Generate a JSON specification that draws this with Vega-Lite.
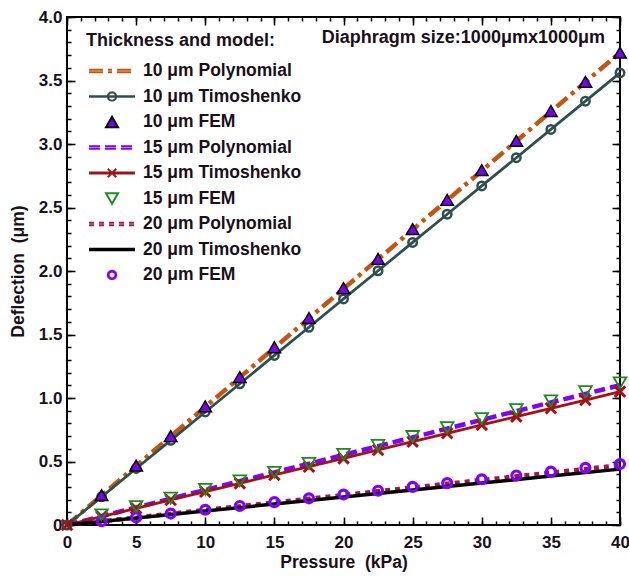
{
  "$schema": "https://vega.github.io/schema/vega-lite/v6.json",
  "width": 553,
  "height": 508,
  "autosize": {"type": "none"},
  "padding": {"left": 67, "top": 17, "right": 9, "bottom": 51},
  "background": "white",
  "data": {"values": [
    {"s":"10 μm Polynomial","p":0,"d":0},{"s":"10 μm Polynomial","p":5,"d":0.465},{"s":"10 μm Polynomial","p":10,"d":0.93},{"s":"10 μm Polynomial","p":15,"d":1.395},{"s":"10 μm Polynomial","p":20,"d":1.86},{"s":"10 μm Polynomial","p":25,"d":2.325},{"s":"10 μm Polynomial","p":30,"d":2.79},{"s":"10 μm Polynomial","p":35,"d":3.255},{"s":"10 μm Polynomial","p":40,"d":3.72},
    {"s":"15 μm Polynomial","p":0,"d":0},{"s":"15 μm Polynomial","p":5,"d":0.138},{"s":"15 μm Polynomial","p":10,"d":0.276},{"s":"15 μm Polynomial","p":15,"d":0.414},{"s":"15 μm Polynomial","p":20,"d":0.552},{"s":"15 μm Polynomial","p":25,"d":0.69},{"s":"15 μm Polynomial","p":30,"d":0.828},{"s":"15 μm Polynomial","p":35,"d":0.965},{"s":"15 μm Polynomial","p":40,"d":1.1},
    {"s":"20 μm Polynomial","p":0,"d":0},{"s":"20 μm Polynomial","p":5,"d":0.059},{"s":"20 μm Polynomial","p":10,"d":0.118},{"s":"20 μm Polynomial","p":15,"d":0.177},{"s":"20 μm Polynomial","p":20,"d":0.236},{"s":"20 μm Polynomial","p":25,"d":0.295},{"s":"20 μm Polynomial","p":30,"d":0.354},{"s":"20 μm Polynomial","p":35,"d":0.412},{"s":"20 μm Polynomial","p":40,"d":0.47},
    {"s":"10 μm Timoshenko","p":0,"d":0},{"s":"10 μm Timoshenko","p":2.5,"d":0.222},{"s":"10 μm Timoshenko","p":5,"d":0.445},{"s":"10 μm Timoshenko","p":7.5,"d":0.667},{"s":"10 μm Timoshenko","p":10,"d":0.89},{"s":"10 μm Timoshenko","p":12.5,"d":1.112},{"s":"10 μm Timoshenko","p":15,"d":1.335},{"s":"10 μm Timoshenko","p":17.5,"d":1.557},{"s":"10 μm Timoshenko","p":20,"d":1.78},{"s":"10 μm Timoshenko","p":22.5,"d":2.002},{"s":"10 μm Timoshenko","p":25,"d":2.225},{"s":"10 μm Timoshenko","p":27.5,"d":2.447},{"s":"10 μm Timoshenko","p":30,"d":2.67},{"s":"10 μm Timoshenko","p":32.5,"d":2.892},{"s":"10 μm Timoshenko","p":35,"d":3.115},{"s":"10 μm Timoshenko","p":37.5,"d":3.337},{"s":"10 μm Timoshenko","p":40,"d":3.56},
    {"s":"15 μm Timoshenko","p":0,"d":0},{"s":"15 μm Timoshenko","p":2.5,"d":0.066},{"s":"15 μm Timoshenko","p":5,"d":0.131},{"s":"15 μm Timoshenko","p":7.5,"d":0.197},{"s":"15 μm Timoshenko","p":10,"d":0.262},{"s":"15 μm Timoshenko","p":12.5,"d":0.328},{"s":"15 μm Timoshenko","p":15,"d":0.394},{"s":"15 μm Timoshenko","p":17.5,"d":0.459},{"s":"15 μm Timoshenko","p":20,"d":0.525},{"s":"15 μm Timoshenko","p":22.5,"d":0.591},{"s":"15 μm Timoshenko","p":25,"d":0.656},{"s":"15 μm Timoshenko","p":27.5,"d":0.722},{"s":"15 μm Timoshenko","p":30,"d":0.788},{"s":"15 μm Timoshenko","p":32.5,"d":0.853},{"s":"15 μm Timoshenko","p":35,"d":0.919},{"s":"15 μm Timoshenko","p":37.5,"d":0.984},{"s":"15 μm Timoshenko","p":40,"d":1.05},
    {"s":"20 μm Timoshenko","p":0,"d":0},{"s":"20 μm Timoshenko","p":5,"d":0.055},{"s":"20 μm Timoshenko","p":10,"d":0.11},{"s":"20 μm Timoshenko","p":15,"d":0.165},{"s":"20 μm Timoshenko","p":20,"d":0.22},{"s":"20 μm Timoshenko","p":25,"d":0.275},{"s":"20 μm Timoshenko","p":30,"d":0.33},{"s":"20 μm Timoshenko","p":35,"d":0.385},{"s":"20 μm Timoshenko","p":40,"d":0.44},
    {"s":"10 μm FEM","p":2.5,"d":0.236},{"s":"10 μm FEM","p":5,"d":0.468},{"s":"10 μm FEM","p":7.5,"d":0.7},{"s":"10 μm FEM","p":10,"d":0.935},{"s":"10 μm FEM","p":12.5,"d":1.165},{"s":"10 μm FEM","p":15,"d":1.4},{"s":"10 μm FEM","p":17.5,"d":1.63},{"s":"10 μm FEM","p":20,"d":1.865},{"s":"10 μm FEM","p":22.5,"d":2.095},{"s":"10 μm FEM","p":25,"d":2.33},{"s":"10 μm FEM","p":27.5,"d":2.56},{"s":"10 μm FEM","p":30,"d":2.795},{"s":"10 μm FEM","p":32.5,"d":3.025},{"s":"10 μm FEM","p":35,"d":3.26},{"s":"10 μm FEM","p":37.5,"d":3.49},{"s":"10 μm FEM","p":40,"d":3.72},
    {"s":"15 μm FEM","p":2.5,"d":0.08},{"s":"15 μm FEM","p":5,"d":0.145},{"s":"15 μm FEM","p":7.5,"d":0.212},{"s":"15 μm FEM","p":10,"d":0.28},{"s":"15 μm FEM","p":12.5,"d":0.348},{"s":"15 μm FEM","p":15,"d":0.415},{"s":"15 μm FEM","p":17.5,"d":0.485},{"s":"15 μm FEM","p":20,"d":0.556},{"s":"15 μm FEM","p":22.5,"d":0.627},{"s":"15 μm FEM","p":25,"d":0.697},{"s":"15 μm FEM","p":27.5,"d":0.767},{"s":"15 μm FEM","p":30,"d":0.838},{"s":"15 μm FEM","p":32.5,"d":0.908},{"s":"15 μm FEM","p":35,"d":0.978},{"s":"15 μm FEM","p":37.5,"d":1.05},{"s":"15 μm FEM","p":40,"d":1.12},
    {"s":"20 μm FEM","p":2.5,"d":0.03},{"s":"20 μm FEM","p":5,"d":0.06},{"s":"20 μm FEM","p":7.5,"d":0.09},{"s":"20 μm FEM","p":10,"d":0.12},{"s":"20 μm FEM","p":12.5,"d":0.15},{"s":"20 μm FEM","p":15,"d":0.18},{"s":"20 μm FEM","p":17.5,"d":0.21},{"s":"20 μm FEM","p":20,"d":0.24},{"s":"20 μm FEM","p":22.5,"d":0.27},{"s":"20 μm FEM","p":25,"d":0.3},{"s":"20 μm FEM","p":27.5,"d":0.33},{"s":"20 μm FEM","p":30,"d":0.36},{"s":"20 μm FEM","p":32.5,"d":0.39},{"s":"20 μm FEM","p":35,"d":0.42},{"s":"20 μm FEM","p":37.5,"d":0.45},{"s":"20 μm FEM","p":40,"d":0.48}
  ]},
  "encoding": {
    "stroke": {
      "field": "s", "type": "nominal",
      "scale": {
        "domain": ["10 μm Polynomial","10 μm Timoshenko","10 μm FEM","15 μm Polynomial","15 μm Timoshenko","15 μm FEM","20 μm Polynomial","20 μm Timoshenko","20 μm FEM"],
        "range": ["#c4560f","#2f4f4f","#000000","#8000ff","#a01416","#1e8a1e","#a3164f","#000000","#8000ff"]
      },
      "legend": {
        "title": "Thickness and model:",
        "orient": "none", "legendX": 19, "legendY": 15, "padding": 0,
        "titleFontSize": 18, "titleFontWeight": "bold", "titleFont": "Liberation Sans", "titleColor": "#1a0f1a", "titlePadding": 12, "titleLimit": 400,
        "labelFontSize": 17.5, "labelFontWeight": "bold", "labelFont": "Liberation Sans", "labelColor": "#1a0f1a", "labelLimit": 400, "labelOffset": 5,
        "symbolSize": 2500, "symbolStrokeWidth": 2, "rowPadding": 7.5, "clipHeight": 18,
        "encode": {"symbols": {"update": {
          "shape": {"signal": "['M-0.92,-0.05H0.92M-0.92,0.05H0.92','M-0.92,-0.014H0.92M-0.92,0.014H0.92M0.17,0L0.147,0.085L0.085,0.147L0,0.17L-0.085,0.147L-0.147,0.085L-0.17,0L-0.147,-0.085L-0.085,-0.147L0,-0.17L0.085,-0.147L0.147,-0.085Z','M0,-0.21L0.24,0.21L-0.24,0.21Z','M-0.92,-0.05H0.92M-0.92,0.05H0.92','M-0.92,-0.02H0.92M-0.92,0.02H0.92M-0.17,-0.17L0.17,0.17M-0.17,0.17L0.17,-0.17','M0,0.21L0.24,-0.21L-0.24,-0.21Z','M-0.92,-0.05H0.92M-0.92,0.05H0.92','M-0.92,-0.03H0.92M-0.92,0.03H0.92','M0.17,0L0.147,0.085L0.085,0.147L0,0.17L-0.085,0.147L-0.147,0.085L-0.17,0L-0.147,-0.085L-0.085,-0.147L0,-0.17L0.085,-0.147L0.147,-0.085ZM0.14,0L0.121,0.07L0.07,0.121L0,0.14L-0.07,0.121L-0.121,0.07L-0.14,0L-0.121,-0.07L-0.07,-0.121L0,-0.14L0.07,-0.121L0.121,-0.07Z'][indexof(['10 μm Polynomial','10 μm Timoshenko','10 μm FEM','15 μm Polynomial','15 μm Timoshenko','15 μm FEM','20 μm Polynomial','20 μm Timoshenko','20 μm FEM'], datum.value)]"},
          "fill": {"signal": "datum.value == '10 μm FEM' ? '#7a00ee' : 'transparent'"},
          "strokeDash": {"signal": "[[14,5,4,5],[1,0],[1,0],[11,5],[1,0],[1,0],[5,5],[1,0],[1,0]][indexof(['10 μm Polynomial','10 μm Timoshenko','10 μm FEM','15 μm Polynomial','15 μm Timoshenko','15 μm FEM','20 μm Polynomial','20 μm Timoshenko','20 μm FEM'], datum.value)]"},
          "strokeWidth": {"value": 2},
          "opacity": {"value": 1}
        }}}
      }
    }
  },
  "layer": [
    {
      "transform": [{"filter": "indexof(datum.s, 'Polynomial') >= 0"}],
      "mark": {"type": "line", "strokeWidth": 4.5},
      "encoding": {
        "x": {"field": "p", "type": "quantitative", "scale": {"domain": [0, 40], "nice": false, "zero": false},
              "axis": {"orient": "bottom", "values": [0,5,10,15,20,25,30,35,40], "format": "d", "tickSize": -8, "labelPadding": 17, "title": "Pressure \u00a0(kPa)", "titlePadding": 3}},
        "y": {"field": "d", "type": "quantitative", "scale": {"domain": [0, 4], "nice": false, "zero": false},
              "axis": {"orient": "left", "values": [0,0.5,1,1.5,2,2.5,3,3.5,4], "labelExpr": "datum.value == 0 ? '0' : format(datum.value, '.1f')", "tickSize": -8, "labelPadding": 13, "title": "Deflection \u00a0(μm)", "titlePadding": 11}},
        "strokeDash": {"field": "s", "type": "nominal", "scale": {"domain": ["10 μm Polynomial","15 μm Polynomial","20 μm Polynomial"], "range": [[14,5,4,5],[11,5],[5,5]]}, "legend": null}
      }
    },
    {
      "transform": [{"filter": "datum.s == '10 μm Timoshenko' || datum.s == '15 μm Timoshenko'"}],
      "mark": {"type": "line", "strokeWidth": 2.8},
      "encoding": {
        "x": {"field": "p", "type": "quantitative", "scale": {"domain": [0, 40], "nice": false, "zero": false},
              "axis": {"orient": "bottom", "values": [0,1,2,3,4,5,6,7,8,9,10,11,12,13,14,15,16,17,18,19,20,21,22,23,24,25,26,27,28,29,30,31,32,33,34,35,36,37,38,39,40], "tickSize": -4, "labels": false, "title": null}},
        "y": {"field": "d", "type": "quantitative", "scale": {"domain": [0, 4], "nice": false, "zero": false},
              "axis": {"orient": "left", "values": [0,0.1,0.2,0.3,0.4,0.5,0.6,0.7,0.8,0.9,1,1.1,1.2,1.3,1.4,1.5,1.6,1.7,1.8,1.9,2,2.1,2.2,2.3,2.4,2.5,2.6,2.7,2.8,2.9,3,3.1,3.2,3.3,3.4,3.5,3.6,3.7,3.8,3.9,4], "tickSize": -4, "labels": false, "title": null}}
      }
    },
    {
      "transform": [{"filter": "datum.s == '20 μm Timoshenko'"}],
      "mark": {"type": "line", "strokeWidth": 3.5},
      "encoding": {
        "x": {"field": "p", "type": "quantitative", "scale": {"domain": [0, 40], "nice": false, "zero": false},
              "axis": {"orient": "top", "values": [0,5,10,15,20,25,30,35,40], "tickSize": -8, "labels": false, "title": null}},
        "y": {"field": "d", "type": "quantitative", "scale": {"domain": [0, 4], "nice": false, "zero": false},
              "axis": {"orient": "right", "values": [0,0.5,1,1.5,2,2.5,3,3.5,4], "tickSize": -8, "labels": false, "title": null}}
      }
    },
    {
      "transform": [{"filter": "datum.s == '10 μm Timoshenko'"}],
      "mark": {"type": "point", "shape": "circle", "size": 72, "strokeWidth": 2.5, "filled": false, "opacity": 1},
      "encoding": {
        "x": {"field": "p", "type": "quantitative", "scale": {"domain": [0, 40], "nice": false, "zero": false},
              "axis": {"orient": "top", "values": [0,1,2,3,4,5,6,7,8,9,10,11,12,13,14,15,16,17,18,19,20,21,22,23,24,25,26,27,28,29,30,31,32,33,34,35,36,37,38,39,40], "tickSize": -4, "labels": false, "title": null}},
        "y": {"field": "d", "type": "quantitative", "scale": {"domain": [0, 4], "nice": false, "zero": false},
              "axis": {"orient": "right", "values": [0,0.1,0.2,0.3,0.4,0.5,0.6,0.7,0.8,0.9,1,1.1,1.2,1.3,1.4,1.5,1.6,1.7,1.8,1.9,2,2.1,2.2,2.3,2.4,2.5,2.6,2.7,2.8,2.9,3,3.1,3.2,3.3,3.4,3.5,3.6,3.7,3.8,3.9,4], "tickSize": -4, "labels": false, "title": null}}
      }
    },
    {
      "transform": [{"filter": "datum.s == '15 μm Timoshenko'"}],
      "mark": {"type": "point", "shape": "M-1,-1L1,1M-1,1L1,-1", "size": 110, "strokeWidth": 3, "filled": false, "opacity": 1},
      "encoding": {
        "x": {"field": "p", "type": "quantitative", "axis": null},
        "y": {"field": "d", "type": "quantitative", "axis": null}
      }
    },
    {
      "transform": [{"filter": "datum.s == '20 μm FEM'"}],
      "mark": {"type": "point", "shape": "circle", "size": 80, "strokeWidth": 3.2, "filled": false, "opacity": 1},
      "encoding": {
        "x": {"field": "p", "type": "quantitative", "axis": null},
        "y": {"field": "d", "type": "quantitative", "axis": null}
      }
    },
    {
      "transform": [{"filter": "datum.s == '15 μm FEM'"}],
      "mark": {"type": "point", "shape": "triangle-down", "size": 160, "strokeWidth": 1.8, "filled": false, "opacity": 1},
      "encoding": {
        "x": {"field": "p", "type": "quantitative", "axis": null},
        "y": {"field": "d", "type": "quantitative", "axis": null}
      }
    },
    {
      "transform": [{"filter": "datum.s == '10 μm FEM'"}],
      "mark": {"type": "point", "shape": "triangle-up", "size": 160, "strokeWidth": 1.4, "filled": true, "fill": "#7a00ee", "opacity": 1},
      "encoding": {
        "x": {"field": "p", "type": "quantitative", "axis": null},
        "y": {"field": "d", "type": "quantitative", "axis": null}
      }
    },
    {
      "data": {"values": [{"t": "Diaphragm size:1000μmx1000μm"}]},
      "mark": {"type": "text", "align": "right", "baseline": "bottom", "dx": -15, "dy": 30, "fontSize": 18, "fontWeight": "bold", "font": "Liberation Sans", "fill": "#1a0f1a"},
      "encoding": {
        "x": {"datum": 40, "type": "quantitative", "axis": null},
        "y": {"datum": 4, "type": "quantitative", "axis": null},
        "text": {"field": "t"},
        "stroke": {"value": "transparent"}
      }
    }
  ],
  "resolve": {"axis": {"x": "independent", "y": "independent"}},
  "config": {
    "font": "Liberation Sans",
    "view": {"stroke": "black", "strokeWidth": 2},
    "axis": {"domain": false, "grid": false, "tickColor": "black", "tickWidth": 1.5, "labelFont": "Liberation Sans", "labelFontSize": 17, "labelFontWeight": "bold", "labelColor": "#1a0f1a", "titleFont": "Liberation Sans", "titleFontSize": 17.5, "titleFontWeight": "bold", "titleColor": "#1a0f1a", "labelFlush": false, "labelOverlap": false}
  }
}
